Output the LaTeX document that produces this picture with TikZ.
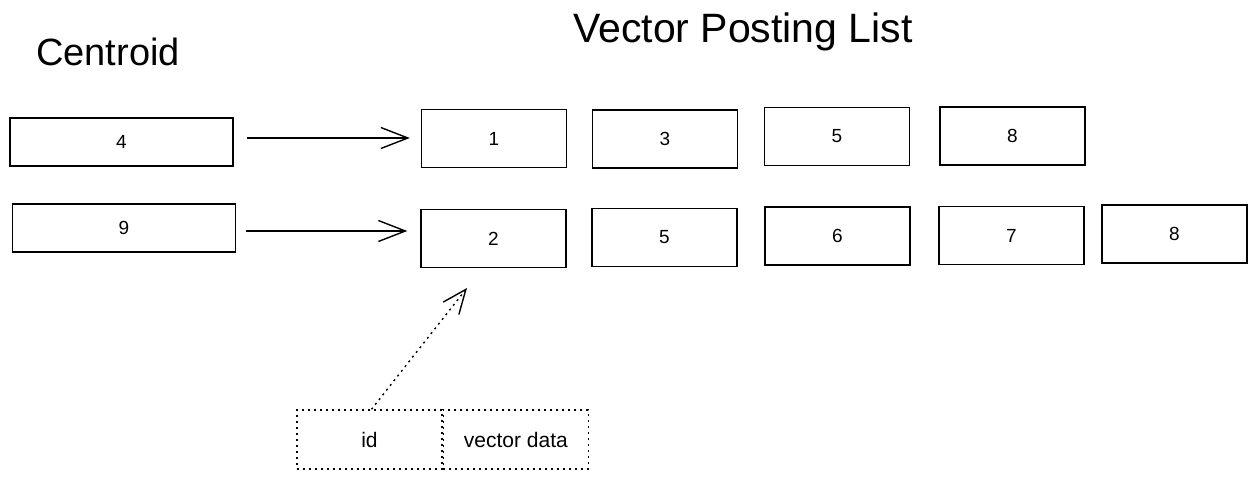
\documentclass[tikz,border=0pt]{standalone}
\usepackage{fontspec}
\setmainfont{Liberation Sans}
\usetikzlibrary{arrows.meta}
\tikzset{
  cell/.style={draw, line width=1.4pt, minimum width=145pt, minimum height=58pt, inner sep=0pt, font=\fontsize{19}{22}\selectfont},
  ccell/.style={cell, minimum width=223pt, minimum height=48pt},
  dcell/.style={cell, dash pattern=on 2pt off 4pt, minimum height=59pt, font=\fontsize{21}{24}\selectfont},
  link/.style={line width=1.4pt, -{Straight Barb[length=27pt,width=21pt,line width=1.4pt]}},
  dlink/.style={line width=1.4pt, dash pattern=on 2pt off 4pt, -{Straight Barb[length=24pt,width=20pt,line width=1.4pt]}},
  title/.style={font=\fontsize{38}{42}\selectfont, inner sep=0pt}
}
\begin{document}
\begin{tikzpicture}[x=1pt,y=-1pt]
\useasboundingbox (0,0) rectangle (1256,478);
\node[title] (tc) at (108,52) {Centroid};
\node[title, font=\fontsize{41}{46}\selectfont] (tv) at (743,32) {Vector Posting List};
% centroids
\node[ccell] (c1) at (121.5,142) {4};
\node[ccell] (c2) at (124,228) {9};
% row 1
\node[cell] (p11) at (494,138.5) {1};
\node[cell] (p12) at (665,139) {3};
\node[cell] (p13) at (837,136.5) {5};
\node[cell] (p14) at (1012.5,136) {8};
% row 2
\node[cell] (p21) at (493.5,238.5) {2};
\node[cell] (p22) at (664.5,237.5) {5};
\node[cell] (p23) at (837.5,236) {6};
\node[cell] (p24) at (1011.5,235.5) {7};
\node[cell] (p25) at (1174.5,234) {8};
% arrows
\draw[link] ([xshift=13pt,yshift=4pt]c1.east) -- ([xshift=-11pt,yshift=4pt]c1.east -| p11.west);
\draw[link] ([xshift=10pt,yshift=-3pt]c2.east) -- ([xshift=-13pt,yshift=-3pt]c2.east -| p21.west);
% record layout
\node[dcell] (rid) at (369.5,439.5) {id};
\node[dcell, anchor=west] (rvd) at (rid.east) {vector data};
\coordinate (tip) at (467,288);
\draw[dlink] ([xshift=2pt]rid.north) -- (tip);
\end{tikzpicture}
\end{document}
